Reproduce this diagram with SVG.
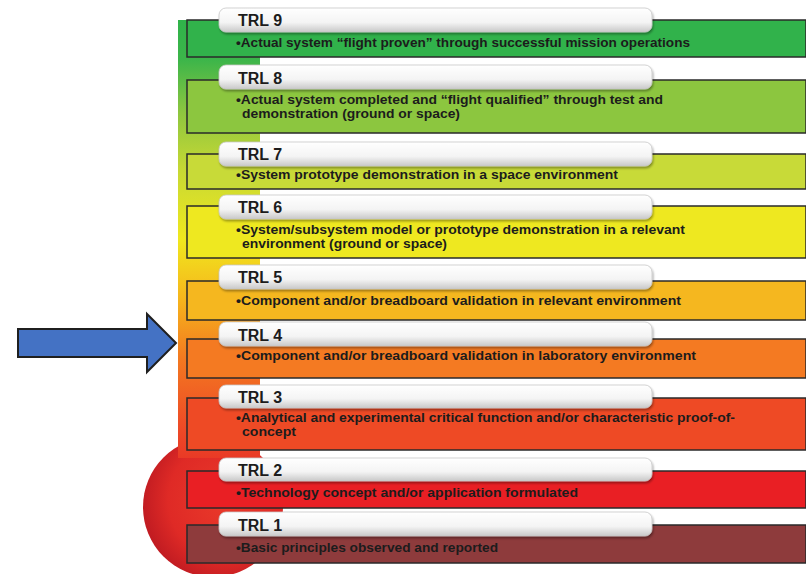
<svg xmlns="http://www.w3.org/2000/svg" width="806" height="574" viewBox="0 0 806 574">
<defs>
<linearGradient id="strip" x1="0" y1="20" x2="0" y2="458" gradientUnits="userSpaceOnUse">
<stop offset="0" stop-color="#2fb34a"/>
<stop offset="0.09" stop-color="#3cb54a"/>
<stop offset="0.21" stop-color="#8dc63f"/>
<stop offset="0.34" stop-color="#c6d834"/>
<stop offset="0.50" stop-color="#f0e81e"/>
<stop offset="0.64" stop-color="#f6b41c"/>
<stop offset="0.77" stop-color="#f37a20"/>
<stop offset="0.92" stop-color="#ee4d26"/>
<stop offset="1" stop-color="#e93a26"/>
</linearGradient>
<linearGradient id="stripFade" x1="0" y1="0" x2="1" y2="0">
<stop offset="0.85" stop-color="#fff" stop-opacity="0"/>
<stop offset="1" stop-color="#fff" stop-opacity="0.5"/>
</linearGradient>
<radialGradient id="ball" cx="0.6" cy="0.45" r="0.6">
<stop offset="0" stop-color="#ea3a2a"/>
<stop offset="0.7" stop-color="#df2a26"/>
<stop offset="1" stop-color="#c21c22"/>
</radialGradient>
<linearGradient id="tab" x1="0" y1="0" x2="0" y2="1">
<stop offset="0" stop-color="#ffffff"/>
<stop offset="0.6" stop-color="#f4f4f4"/>
<stop offset="1" stop-color="#c9c9c9"/>
</linearGradient>
<filter id="shadow" x="-5%" y="-30%" width="110%" height="170%">
<feDropShadow dx="1" dy="2" stdDeviation="1.2" flood-color="#000" flood-opacity="0.35"/>
</filter>
</defs>
<style>
.box{stroke:#2a2a2a;stroke-width:1.5}
.tab{fill:url(#tab);stroke:#c8c8c8;stroke-width:0.8;filter:url(#shadow)}
.hd{font-family:"Liberation Sans",Arial,sans-serif;font-weight:bold;font-size:16px;fill:#1c1c1c}
.ds{font-family:"Liberation Sans",Arial,sans-serif;font-weight:bold;font-size:12px;fill:#1c1c1c}
</style>
<rect width="806" height="574" fill="#ffffff"/>
<g id="background">
<circle cx="213" cy="507" r="70" fill="url(#ball)"/>
<rect x="178" y="20" width="82" height="438" fill="url(#strip)"/>
</g>
<g id="trl9">
<rect class="box" x="187" y="20" width="619" height="37" fill="#31b24b"/>
<rect class="tab" x="219" y="8" width="433" height="24" rx="7"/>
<text class="hd" x="238" y="26">TRL 9</text>
<text class="ds" x="236" y="47" textLength="454" lengthAdjust="spacingAndGlyphs">•Actual system “flight proven” through successful mission operations</text>
</g>
<g id="trl8">
<rect class="box" x="187" y="80" width="619" height="53" fill="#8cc63f"/>
<rect class="tab" x="219" y="65" width="433" height="24" rx="7"/>
<text class="hd" x="238" y="84">TRL 8</text>
<text class="ds" x="236" y="104" textLength="427" lengthAdjust="spacingAndGlyphs">•Actual system completed and “flight qualified” through test and</text>
<text class="ds" x="242" y="118" textLength="218" lengthAdjust="spacingAndGlyphs">demonstration (ground or space)</text>
</g>
<g id="trl7">
<rect class="box" x="187" y="154" width="619" height="35" fill="#c8da38"/>
<rect class="tab" x="219" y="142" width="433" height="24" rx="7"/>
<text class="hd" x="238" y="160">TRL 7</text>
<text class="ds" x="236" y="179" textLength="382" lengthAdjust="spacingAndGlyphs">•System prototype demonstration in a space environment</text>
</g>
<g id="trl6">
<rect class="box" x="187" y="206" width="619" height="52" fill="#eee820"/>
<rect class="tab" x="219" y="195" width="433" height="24" rx="7"/>
<text class="hd" x="238" y="213">TRL 6</text>
<text class="ds" x="236" y="234" textLength="449" lengthAdjust="spacingAndGlyphs">•System/subsystem model or prototype demonstration in a relevant</text>
<text class="ds" x="242" y="248" textLength="205" lengthAdjust="spacingAndGlyphs">environment (ground or space)</text>
</g>
<g id="trl5">
<rect class="box" x="187" y="281" width="619" height="39" fill="#f5b71f"/>
<rect class="tab" x="219" y="265" width="433" height="24" rx="7"/>
<text class="hd" x="238" y="283">TRL 5</text>
<text class="ds" x="236" y="305" textLength="445" lengthAdjust="spacingAndGlyphs">•Component and/or breadboard validation in relevant environment</text>
</g>
<g id="trl4">
<rect class="box" x="187" y="339" width="619" height="39" fill="#f47a22"/>
<rect class="tab" x="219" y="322" width="433" height="24" rx="7"/>
<text class="hd" x="238" y="341">TRL 4</text>
<text class="ds" x="236" y="360" textLength="460" lengthAdjust="spacingAndGlyphs">•Component and/or breadboard validation in laboratory environment</text>
</g>
<g id="trl3">
<rect class="box" x="187" y="398" width="619" height="52" fill="#ee4a25"/>
<rect class="tab" x="219" y="385" width="433" height="23" rx="7"/>
<text class="hd" x="238" y="403">TRL 3</text>
<text class="ds" x="236" y="422" textLength="499" lengthAdjust="spacingAndGlyphs">•Analytical and experimental critical function and/or characteristic proof-of-</text>
<text class="ds" x="242" y="436" textLength="54" lengthAdjust="spacingAndGlyphs">concept</text>
</g>
<g id="trl2">
<rect class="box" x="187" y="471" width="619" height="37" fill="#e91f24"/>
<rect class="tab" x="219" y="458" width="433" height="23" rx="7"/>
<text class="hd" x="238" y="476">TRL 2</text>
<text class="ds" x="236" y="497" textLength="342" lengthAdjust="spacingAndGlyphs">•Technology concept and/or application formulated</text>
</g>
<g id="trl1">
<rect class="box" x="187" y="525" width="619" height="38" fill="#8e3b3c"/>
<rect class="tab" x="219" y="512" width="433" height="24" rx="7"/>
<text class="hd" x="238" y="531">TRL 1</text>
<text class="ds" x="236" y="552" textLength="262" lengthAdjust="spacingAndGlyphs">•Basic principles observed and reported</text>
</g>
<g id="connectors">
<polygon points="18,329 147,329 147,314 176,343 147,372 147,357 18,357" fill="#4472c4" stroke="#1f1f1f" stroke-width="2" stroke-linejoin="miter"/>
</g>
</svg>
